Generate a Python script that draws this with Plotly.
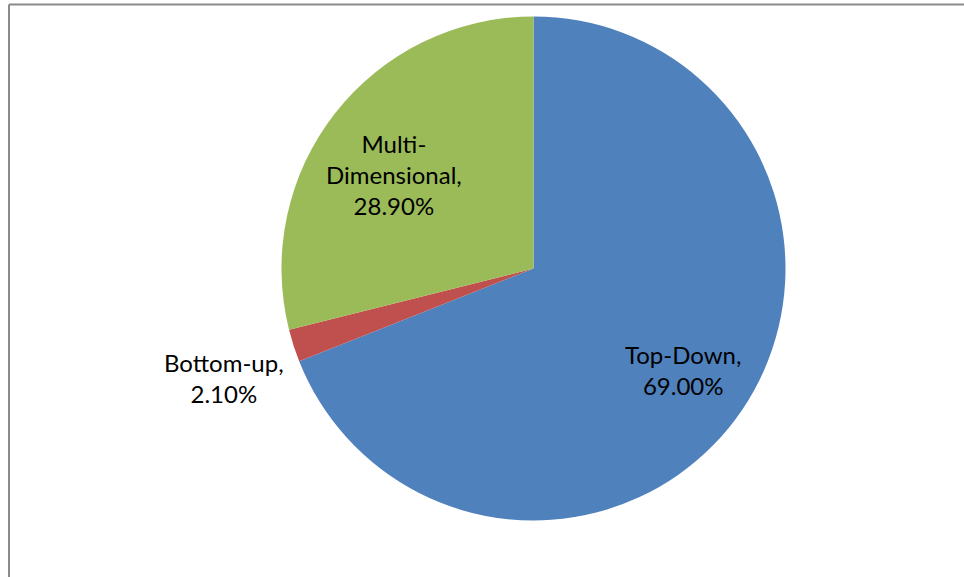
import math
import plotly.graph_objects as go

categories = ["Top-Down", "Bottom-up", "Multi-Dimensional"]
values = [69.00, 2.10, 28.90]
label_lines = ["Top-Down,<br>69.00%", "Bottom-up,<br>2.10%", "Multi-<br>Dimensional,<br>28.90%"]
colors = ["#4F81BD", "#C0504D", "#9BBB59"]

# label placement (layout only): radial factor and angle tweak in degrees
label_radius = [0.717, 1.303, 0.669]
label_angle_tweak = [0.0, -1.6, -3.9]

W, H = 964, 577
cx, cy, r = 533.5, 268.5, 252

fig = go.Figure(go.Pie(
    labels=categories,
    values=values,
    textinfo="none",
    sort=False,
    direction="clockwise",
    rotation=0,
    marker=dict(colors=colors, line=dict(color="white", width=0)),
    showlegend=False,
    domain=dict(x=[(cx - r) / W, (cx + r) / W], y=[1 - (cy + r) / H, 1 - (cy - r) / H]),
    hoverinfo="label+percent",
))

total = sum(values)
annotations = []
cum = 0.0
for v, txt, k, tw in zip(values, label_lines, label_radius, label_angle_tweak):
    mid = (cum + v / 2) / total * 360.0 + tw
    cum += v
    a = math.radians(mid)
    px = cx + k * r * math.sin(a)
    py = cy - k * r * math.cos(a)
    annotations.append(dict(
        x=px / W, y=1 - py / H, xref="paper", yref="paper",
        text=txt, showarrow=False, xanchor="center", yanchor="middle",
        align="center", font=dict(family="Lato", size=24, color="black"),
    ))

fig.update_layout(
    width=W, height=H,
    margin=dict(l=0, r=0, t=0, b=0),
    paper_bgcolor="white",
    plot_bgcolor="white",
    annotations=annotations,
    shapes=[
        dict(type="line", xref="paper", yref="paper", x0=9 / W, x1=1.02, y0=1 - 4.5 / H, y1=1 - 4.5 / H,
             line=dict(color="#8a8a8a", width=2)),
        dict(type="line", xref="paper", yref="paper", x0=9 / W, x1=9 / W, y0=1 - 4.5 / H, y1=-0.02,
             line=dict(color="#8a8a8a", width=2)),
    ],
)

fig.write_html("out.html", config={"displayModeBar": False},
               post_script="document.body.style.margin='0';")
